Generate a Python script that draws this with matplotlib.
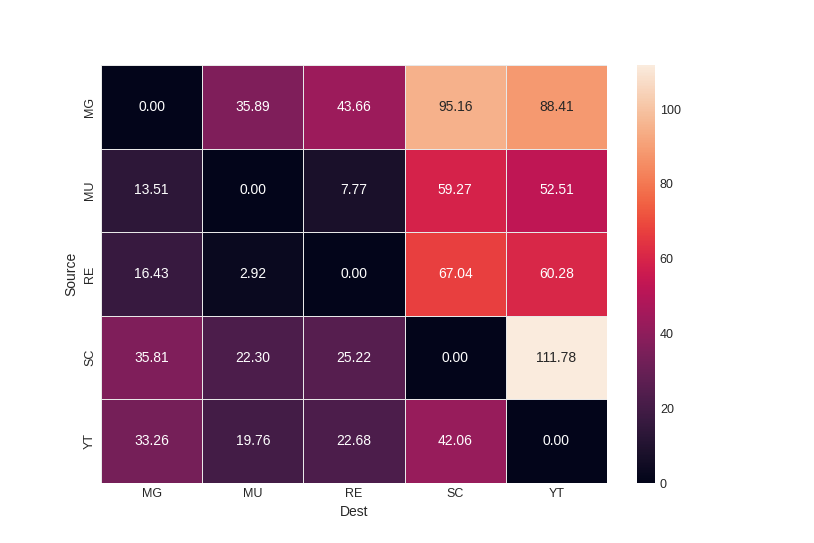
import numpy as np
import pandas as pd
import matplotlib

matplotlib.use('Agg')

import matplotlib.pyplot as plt
import seaborn as sns

# 城市代码
sources = ['MG', 'MU', 'RE', 'SC', 'YT']
dests = ['MG', 'MU', 'RE', 'SC', 'YT']

# 每行数值
row_mg = [0.00, 35.89, 43.66, 95.16, 88.41]
row_mu = [13.51, 0.00, 7.77, 59.27, 52.51]
row_re = [16.43, 2.92, 0.00, 67.04, 60.28]
row_sc = [35.81, 22.30, 25.22, 0.00, 111.78]
row_yt = [33.26, 19.76, 22.68, 42.06, 0.00]

sns.set_style('white')
plt.rcParams['font.family'] = ['Liberation Sans', 'DejaVu Sans']

df = pd.DataFrame([row_mg, row_mu, row_re, row_sc, row_yt], index=sources, columns=dests)
df.index.name = 'Source'
df.columns.name = 'Dest'

fig = plt.figure(figsize=(8.14, 5.43), dpi=100)
ax = fig.add_axes([101 / 814, 1 - 483 / 543, 506 / 814, 418 / 543])
cax = fig.add_axes([637 / 814, 1 - 483 / 543, 18 / 814, 418 / 543])

sns.heatmap(df, annot=True, fmt='.2f', cmap='rocket', linewidths=0.5, linecolor='#e8e8e8',
            ax=ax, cbar_ax=cax, annot_kws={'fontsize': 10})

ax.tick_params(length=0, labelsize=9)
cax.tick_params(length=0, labelsize=9)
cax.yaxis.set_major_locator(plt.MultipleLocator(20))
ax.set_xlabel('Dest', fontsize=10)
ax.set_ylabel('Source', fontsize=10)
for spine in cax.spines.values():
    spine.set_visible(False)

plt.savefig('out.png', dpi=100)
plt.close(fig)
